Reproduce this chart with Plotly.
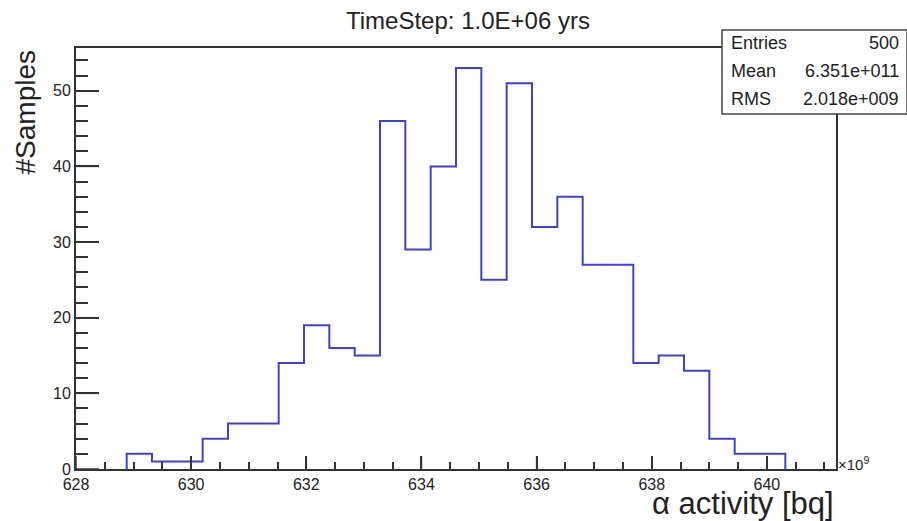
import plotly.graph_objects as go

# Histogram of sampled alpha activity (units of 1e9 Bq)
bin_start = 628.0
bin_width = 0.44
counts = [0, 0, 2, 1, 1, 4, 6, 6, 14, 19, 16, 15, 46, 29, 40, 53,
          25, 51, 32, 36, 27, 27, 14, 15, 13, 4, 2, 2, 0, 0]

x_ticks = [628, 630, 632, 634, 636, 638, 640]
y_ticks = [0, 10, 20, 30, 40, 50]

stat_names = ["Entries", "Mean", "RMS"]
stat_values = ["500", "6.351e+011", "2.018e+009"]

title_text = "TimeStep: 1.0E+06 yrs"
x_title = "α activity [bq]"
y_title = "#Samples"

edges = [bin_start + i * bin_width for i in range(len(counts) + 1)]
x_max = edges[-1]
y_max = max(counts) * 1.05

# Outline between the first and last filled bins (empty bins lie on the axis)
first = next(i for i, c in enumerate(counts) if c > 0)
last = max(i for i, c in enumerate(counts) if c > 0)
step_x = [edges[first]] + edges[first:last + 2]
step_y = [0] + counts[first:last + 1] + [0]

W, H = 907, 521
L, R, T, B = 76, 71, 48, 52
pw = W - L - R
ph = H - T - B

FONT = "Liberation Sans, Arial, sans-serif"
AX = "#333333"
TXT = "#222222"
X_MAJOR_LEN, Y_MAJOR_LEN = 13, 23

fig = go.Figure()
fig.add_trace(go.Scatter(
    x=step_x, y=step_y, mode="lines", line_shape="hv",
    line=dict(color="rgb(64,64,208)", width=2),
    hoverinfo="skip", showlegend=False,
))

fig.update_layout(
    template="none",
    width=W, height=H,
    margin=dict(l=L, r=R, t=T, b=B),
    paper_bgcolor="white", plot_bgcolor="white",
    font=dict(family=FONT, color=TXT),
    showlegend=False,
    xaxis=dict(
        range=[bin_start, x_max], tickmode="array", tickvals=x_ticks,
        ticktext=[str(v) for v in x_ticks],
        ticks="inside", ticklen=X_MAJOR_LEN, tickwidth=1.5, tickcolor=AX,
        minor=dict(dtick=0.5, ticks="inside", ticklen=7, tickwidth=1.5,
                   tickcolor=AX, showgrid=False),
        showline=True, linecolor=AX, linewidth=2, mirror=True,
        showgrid=False, zeroline=False,
        tickfont=dict(size=16, family=FONT, color=TXT),
    ),
    yaxis=dict(
        range=[0, y_max], tickmode="array", tickvals=y_ticks,
        ticktext=[str(v) for v in y_ticks],
        ticks="inside", ticklen=Y_MAJOR_LEN, tickwidth=1.5, tickcolor=AX,
        minor=dict(dtick=2, ticks="inside", ticklen=12, tickwidth=1.5,
                   tickcolor=AX, showgrid=False),
        showline=True, linecolor=AX, linewidth=2, mirror=True,
        showgrid=False, zeroline=False,
        tickfont=dict(size=16, family=FONT, color=TXT),
    ),
)

# Long major tick marks, placed on the axis scales
for v in x_ticks:
    fig.add_shape(type="line", xref="x", yref="paper",
                  x0=v, x1=v, y0=0, y1=X_MAJOR_LEN / ph,
                  line=dict(color=AX, width=1.5), layer="above")
for v in y_ticks:
    fig.add_shape(type="line", xref="paper", yref="y",
                  x0=0, x1=Y_MAJOR_LEN / pw, y0=v, y1=v,
                  line=dict(color=AX, width=1.5), layer="above")

def px_x(p):
    return (p - L) / pw

def px_y(p):
    return 1 - (p - T) / ph

# Title
fig.add_annotation(text=title_text, xref="paper", yref="paper",
                   x=px_x(468), y=px_y(20), showarrow=False,
                   xanchor="center", yanchor="middle",
                   font=dict(size=24, family=FONT, color=TXT))

# Axis titles
fig.add_annotation(text=x_title, xref="paper", yref="paper",
                   x=px_x(836), y=px_y(503), showarrow=False,
                   xanchor="right", yanchor="middle",
                   font=dict(size=31, family=FONT, color=TXT))
fig.add_annotation(text=y_title, xref="paper", yref="paper",
                   x=px_x(25), y=1.0, showarrow=False, textangle=-90,
                   xanchor="center", yanchor="top",
                   font=dict(size=28, family=FONT, color=TXT))

# Exponent label of the x axis
fig.add_annotation(text="×10<sup>9</sup>", xref="paper", yref="paper",
                   x=px_x(836), y=px_y(463), showarrow=False,
                   xanchor="left", yanchor="middle",
                   font=dict(size=15, family=FONT, color=TXT))

# Statistics box
bx0, bx1, by0, by1 = 722, 907, 30, 114
fig.add_shape(type="rect", xref="paper", yref="paper",
              x0=px_x(bx0), x1=px_x(bx1), y0=px_y(by1), y1=px_y(by0),
              line=dict(color="#444444", width=1.5), fillcolor="white",
              layer="above")
row_y = [43, 71, 99]
for name, val, ry in zip(stat_names, stat_values, row_y):
    fig.add_annotation(text=name, xref="paper", yref="paper",
                       x=px_x(729), y=px_y(ry), showarrow=False,
                       xanchor="left", yanchor="middle",
                       font=dict(size=18, family=FONT, color=TXT))
    fig.add_annotation(text=val, xref="paper", yref="paper",
                       x=px_x(901), y=px_y(ry), showarrow=False,
                       xanchor="right", yanchor="middle",
                       font=dict(size=18, family=FONT, color=TXT))

fig.write_html("out.html")
